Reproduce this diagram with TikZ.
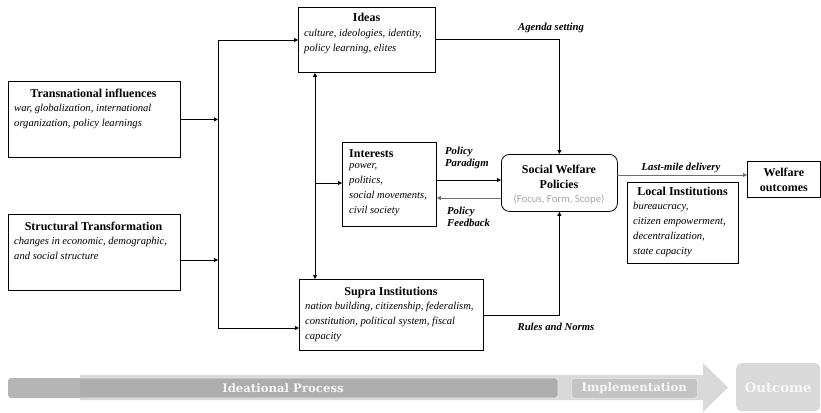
\documentclass[tikz,border=0pt]{standalone}
\usepackage{fontspec}
\setmainfont{Liberation Serif}
\newfontfamily\calfont{Carlito}
\newfontfamily\slabfont{DejaVu Serif}
\usetikzlibrary{arrows.meta,calc}

\definecolor{barDark}{HTML}{B4B4B4}
\definecolor{barMid}{HTML}{ADADAD}
\definecolor{arrowLight}{HTML}{D9D9D9}
\definecolor{implFill}{HTML}{C4C4C4}
\definecolor{barText}{HTML}{F7F7F7}
\definecolor{noteGray}{HTML}{A6A6A6}
\definecolor{lineGray}{HTML}{6E6E6E}

\begin{document}
\begin{tikzpicture}[x=1pt,y=-1pt,
  box/.style={draw=black, line width=0.8pt, anchor=north west, inner sep=0pt},
  body/.style={anchor=north west, inner sep=0pt, align=left,
    font=\fontsize{10.6}{15}\selectfont\itshape},
  ttl/.style={anchor=base, inner sep=0pt, font=\fontsize{12}{14}\selectfont\bfseries},
  lbl/.style={inner sep=0pt, align=left, font=\fontsize{10.7}{12.5}\selectfont\bfseries\itshape},
  tip/.style={-{Triangle[length=4pt,width=4pt]}},
  conn/.style={line width=0.8pt, tip},
  wire/.style={line width=0.8pt},
  slab/.style={inner sep=0pt, text=barText, font=\slabfont\bfseries\fontsize{11.7}{13}\selectfont},
]
\useasboundingbox (0,0) rectangle (821,412);

% ---- boxes ----
\node[box, minimum width=172pt, minimum height=76pt] (trans) at (7.5,81) {};
\node[ttl] (transT) at (93.5,97) {Transnational influences};
\node[body] (transB) at (14,103.5) {war, globalization, international\\organization, policy learnings};

\node[box, minimum width=172pt, minimum height=76pt] (struct) at (7.5,214) {};
\node[ttl] (structT) at (93.5,230) {Structural Transformation};
\node[body] (structB) at (14,236.5) {changes in economic, demographic,\\and social structure};

\node[box, minimum width=137pt, minimum height=65pt] (ideas) at (298,7) {};
\node[ttl] (ideasT) at (366.5,22) {Ideas};
\node[body] (ideasB) at (304,28.5) {culture, ideologies, identity,\\policy learning, elites};

\node[box, minimum width=94pt, minimum height=84pt] (interests) at (342,142) {};
\node[ttl, anchor=base west] (interestsT) at (349,157) {Interests};
\node[body] (interestsB) at (349,163.5) {power,\\politics,\\social movements,\\civil society};

\node[box, rounded corners=8pt, minimum width=116pt, minimum height=57pt] (sw) at (501,154) {};
\node[ttl] (swT1) at (559,173.5) {Social Welfare};
\node[ttl] (swT2) at (559,188.5) {Policies};
\node[anchor=base, inner sep=0pt, text=noteGray, font=\calfont\fontsize{10.8}{12}\selectfont] (swN) at (559,202) {(Focus, Form, Scope)};

\node[box, minimum width=184pt, minimum height=71pt] (supra) at (299,279) {};
\node[ttl] (supraT) at (391,295) {Supra Institutions};
\node[body] (supraB) at (305,301.5) {nation building, citizenship, federalism,\\constitution, political system, fiscal\\capacity};

\node[box, minimum width=111pt, minimum height=81pt] (local) at (627,182) {};
\node[ttl] (localT) at (682.5,195.5) {Local Institutions};
\node[body] (localB) at (633,201.5) {bureaucracy,\\citizen empowerment,\\decentralization,\\state capacity};

\node[box, minimum width=73pt, minimum height=36pt] (welfare) at (747,161) {};
\node[inner sep=0pt, align=center, font=\fontsize{12}{15}\selectfont\bfseries] (welfareT) at (welfare.center) {Welfare\\outcomes};

% ---- connectors ----
\coordinate (spTop) at (218,40);
\coordinate (spBot) at (218,328);
\coordinate (stOut) at (179.5,260);
\draw[wire] (spTop) -- (spBot);
\draw[conn] (spTop) -- (spTop -| ideas.west);
\draw[conn] (spBot) -- (spBot -| supra.west);
\draw[conn] (trans.east) -- (trans.east -| spTop);
\draw[conn] (stOut) -- (stOut -| spTop);

\coordinate (mid) at (315,183);
\draw[wire, {Triangle[length=4pt,width=4pt]}-{Triangle[length=4pt,width=4pt]}] (mid |- ideas.south) -- (mid |- supra.north);
\draw[conn] (mid) -- (mid -| interests.west);

\coordinate (pp) at (436,180);
\draw[conn] (pp) -- (pp -| sw.west);
\coordinate (pf) at (501,198);
\draw[conn, draw=lineGray, line width=1pt] (pf) -- (pf -| interests.east);

\draw[conn] (ideas.east) -| (sw.north);
\draw[conn] (supra.east) -| (sw.south);

\coordinate (lm) at (617,175);
\draw[conn, draw=lineGray] (lm) -- (lm -| welfare.west);

% ---- connector labels ----
\node[lbl] (agenda) at (551,28) {Agenda setting};
\node[lbl, anchor=west] (paradigm) at (445,158) {Policy\\Paradigm};
\node[lbl, anchor=west] (feedback) at (447,217) {Policy\\Feedback};
\node[lbl] (rules) at (556,327) {Rules and Norms};
\node[lbl] (lastmile) at (681,168) {Last-mile delivery};

% ---- process bar ----
\fill[arrowLight] (80,375) -- (703,375) -- (703,363) -- (728,387.5) -- (703,412) -- (703,400) -- (80,400) -- cycle;
\fill[barDark, rounded corners=3pt] (8,378) rectangle (90,398);
\draw[fill=barMid, draw=white!92!black, line width=0.6pt, rounded corners=3pt] (80,378) -- (558,378) -- (558,398) -- (80,398);
\node[slab] (ideational) at (283,388) {Ideational Process};
\node[draw=white!92!black, fill=implFill, line width=0.6pt, rounded corners=3pt, minimum width=126pt, minimum height=20pt, anchor=north west] (impl) at (571,378) {};
\node[slab] (implT) at (impl.center) {Implementation};
\node[fill=arrowLight, rounded corners=5pt, minimum width=84pt, minimum height=48pt, anchor=north west, inner sep=0pt] (outcome) at (736,363) {};
\node[slab, font=\slabfont\bfseries\fontsize{13.3}{15}\selectfont] (outcomeT) at (outcome.center) {Outcome};
\end{tikzpicture}
\end{document}
